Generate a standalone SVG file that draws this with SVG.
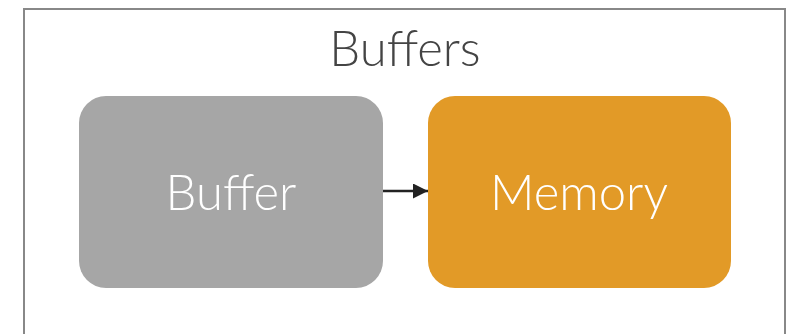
<svg xmlns="http://www.w3.org/2000/svg" width="798" height="334" viewBox="0 0 798 334">
<style>
.frame{fill:#fff;stroke:#888;stroke-width:2}
.lbl{font-family:Lato,"Open Sans","Liberation Sans",sans-serif;font-weight:300;font-size:49px;text-anchor:middle}
.title{fill:#444}
.ntext{fill:#fff}
.conn{stroke:#222;stroke-width:2.5;fill:none}
</style>
<defs>
<marker id="ah" viewBox="0 0 10 10" refX="10" refY="5" markerWidth="17" markerHeight="15" markerUnits="userSpaceOnUse" orient="auto">
<path d="M0,0 L10,5 L0,10 Z" fill="#222"/>
</marker>
</defs>
<rect width="798" height="334" fill="#fff"/>
<g id="frame">
<rect class="frame" x="24" y="9" width="761" height="340"/>
<text class="lbl title" x="405" y="66">Buffers</text>
</g>
<g id="connectors">
<line class="conn" x1="383" y1="191" x2="428" y2="191" marker-end="url(#ah)"/>
</g>
<g id="node-buffer">
<rect x="79" y="96" width="304" height="192" rx="27" fill="#A6A6A6"/>
<text class="lbl ntext" x="231" y="210">Buffer</text>
</g>
<g id="node-memory">
<rect x="428" y="96" width="303" height="192" rx="27" fill="#E29A27"/>
<text class="lbl ntext" x="579" y="210">Memory</text>
</g>
</svg>
